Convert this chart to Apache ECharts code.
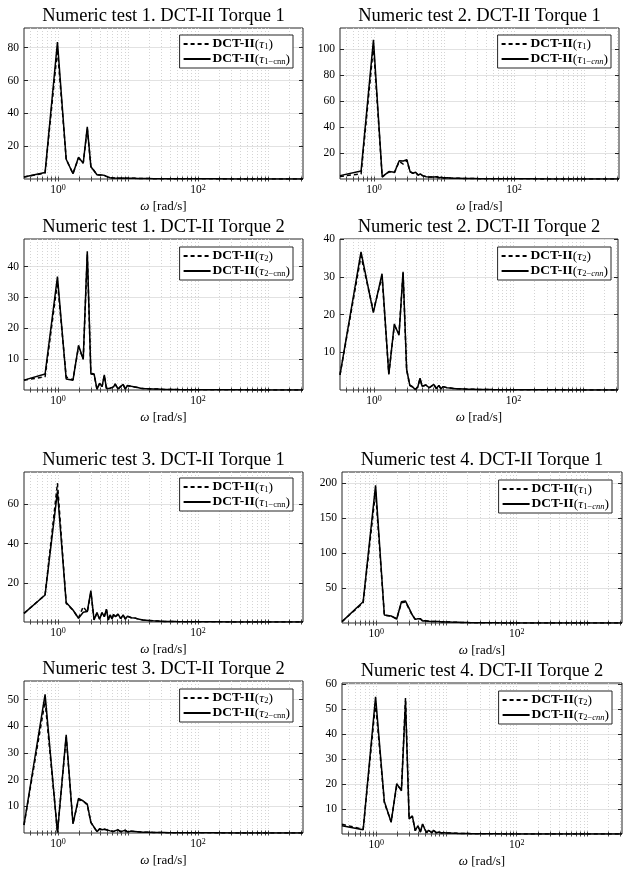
<!DOCTYPE html>
<html><head><meta charset="utf-8">
<script src="https://cdn.jsdelivr.net/npm/echarts@6/dist/echarts.min.js"></script>
<style>html,body{margin:0;padding:0;background:#fff}#c{width:627px;height:869px}</style>
</head><body><div id="c"></div><script>
// frequency samples omega [rad/s]
const omega = [0.327,0.654,0.982,1.309,1.636,1.963,2.291,2.618,2.945,3.272,3.600,3.927,4.254,4.581,4.909,5.236,5.563,5.890,6.218,6.545,
  7.199,7.854,8.508,9.163,9.817, 11.13,12.43,13.74,15.05,16.36, 19.63,22.91,26.18, 32.72,39.27,49.09,65.45,98.17,163.6,327.2,654.5,1309,3142];

const titles = [
  'Numeric test 1. DCT-II Torque 1','Numeric test 2. DCT-II Torque 1',
  'Numeric test 1. DCT-II Torque 2','Numeric test 2. DCT-II Torque 2',
  'Numeric test 3. DCT-II Torque 1','Numeric test 4. DCT-II Torque 1',
  'Numeric test 3. DCT-II Torque 2','Numeric test 4. DCT-II Torque 2'];

const p1_ref = [1.2,3.6,79,12,3.3,12.8,9.8,30.5,7.6,5.0,2.6,2.4,2.5,2.2,1.6,1.1,0.8,0.7,0.6,0.6, 0.5,0.5,0.6,0.4,0.5, 0.4,0.4,0.3,0.3,0.3, 0.3,0.2,0.2, 0.2,0.15,0.15,0.1,0.1,0.08,0.05,0.05,0.03,0.02];
const p1_cnn = [1.2,4.0,83.5,12,3.2,13.2,9.6,31.8,7.5,5.0,2.6,2.4,2.5,2.2,1.6,1.1,0.8,0.7,0.6,0.6, 0.5,0.5,0.6,0.4,0.5, 0.4,0.4,0.3,0.3,0.3, 0.3,0.2,0.2, 0.2,0.15,0.15,0.1,0.1,0.08,0.05,0.05,0.03,0.02];
const p2_ref = [2.0,3.9,102,1.5,5.5,5.0,13.5,11.5,14.5,5.5,4.4,5.0,3.0,3.8,2.6,3.0,1.8,2.7,1.5,2.0, 1.5,1.7,1.0,1.3,0.8, 0.9,0.7,0.6,0.5,0.5, 0.4,0.3,0.3, 0.25,0.2,0.2,0.15,0.1,0.1,0.08,0.05,0.04,0.03];
const p2_cnn = [2.6,6.2,107,1.8,5.7,5.2,14,13.8,14.8,5.7,4.4,5.2,3.0,3.9,2.6,3.1,1.8,2.8,1.5,2.0, 1.5,1.8,1.0,1.3,0.8, 0.9,0.7,0.6,0.5,0.5, 0.4,0.3,0.3, 0.25,0.2,0.2,0.15,0.1,0.1,0.08,0.05,0.04,0.03];
const p3_ref = [3.2,4.3,35,4.2,3.3,14,10,44,5.2,5.0,0.3,2.1,1.1,4.7,0.5,0.1,0.6,0.3,1.0,1.9, 0.3,1.1,1.7,0.3,1.4, 1.1,1.0,0.8,0.6,0.5, 0.4,0.3,0.3, 0.2,0.2,0.15,0.1,0.1,0.08,0.05,0.04,0.03,0.02];
const p3_cnn = [3.2,5.2,36.8,3.6,3.2,14.5,10,45,5.4,5.2,0.2,2.2,1.1,4.9,0.5,0.1,0.6,0.3,1.0,2.0, 0.3,1.2,1.8,0.3,1.5, 1.2,1.0,0.8,0.6,0.5, 0.4,0.3,0.3, 0.2,0.2,0.15,0.1,0.1,0.08,0.05,0.04,0.03,0.02];
const p4_ref = [4,35.5,21,30,4.3,17,15,31,5.3,1.3,0.8,0.2,0.8,3.0,1.0,0.5,1.3,1.7,0.6,0.3, 1.4,0.4,1.2,0.3,0.9, 0.6,0.5,0.4,0.3,0.3, 0.25,0.2,0.2, 0.15,0.12,0.1,0.08,0.06,0.05,0.04,0.03,0.02,0.02];
const p4_cnn = [4,36.6,20.5,30.8,4.1,17.5,14.5,31.3,5.5,1.2,0.8,0.1,0.8,3.1,1.0,0.5,1.3,1.8,0.6,0.3, 1.5,0.4,1.2,0.3,0.9, 0.6,0.5,0.4,0.3,0.3, 0.25,0.2,0.2, 0.15,0.12,0.1,0.08,0.06,0.05,0.04,0.03,0.02,0.02];
const p5_ref = [4.4,13.8,70.8,9.5,6.0,2.0,7.8,5.0,15,1.2,4.6,1.5,4.7,2.8,6.2,1.1,3.5,1.5,3.8,2.6, 3.9,1.8,3.5,1.5,2.9, 2.2,2.0,1.6,1.3,1.0, 0.8,0.6,0.5, 0.3,0.25,0.2,0.15,0.1,0.08,0.05,0.05,0.03,0.02];
const p5_cnn = [4.4,13.8,66.6,9.9,6.1,1.9,5.0,5.3,16,1.0,4.8,1.4,4.8,2.7,6.5,1.0,3.6,1.5,3.9,2.7, 4.0,1.7,3.6,1.5,3.0, 2.2,2.0,1.6,1.3,1.0, 0.8,0.6,0.5, 0.3,0.25,0.2,0.15,0.1,0.08,0.05,0.05,0.03,0.02];
const p6_ref = [2,29,188,11,10,6,29,30,20,11,5.3,6.0,6.1,3.0,3.3,3.0,2.5,3.0,2.0,2.5, 2.0,2.2,1.6,1.8,1.4, 1.3,1.2,1.0,0.9,0.8, 0.6,0.5,0.4, 0.3,0.2,0.2,0.15,0.1,0.08,0.05,0.05,0.03,0.02];
const p6_cnn = [2,30.5,197,11.4,10,5.7,30.5,31.4,21,11.4,5.2,6.2,6.2,2.9,3.3,3.0,2.5,3.0,2.0,2.5, 2.0,2.2,1.6,1.8,1.4, 1.3,1.2,1.0,0.9,0.8, 0.6,0.5,0.4, 0.3,0.2,0.2,0.15,0.1,0.08,0.05,0.05,0.03,0.02];
const p7_ref = [3,49.5,0.5,36,3.6,12.5,12,10.5,4.0,2.1,0.5,1.5,1.2,1.4,1.2,1.3,0.8,1.4,0.6,0.9, 1.1,0.5,0.8,1.0,0.4, 0.7,0.6,0.5,0.4,0.3, 0.3,0.2,0.2, 0.15,0.1,0.1,0.08,0.05,0.05,0.03,0.03,0.02,0.01];
const p7_cnn = [3,52,0.1,36.8,3.4,13,12,10.8,4.0,2.2,0.5,1.6,1.2,1.4,1.2,1.3,0.8,1.5,0.6,0.9, 1.2,0.5,0.8,1.0,0.4, 0.7,0.6,0.5,0.4,0.3, 0.3,0.2,0.2, 0.15,0.1,0.1,0.08,0.05,0.05,0.03,0.03,0.02,0.01];
const p8_ref = [3.9,1.9,52.5,12.5,4.9,19.5,18,54.5,6.2,7.0,1.4,3.2,0.8,3.8,2.0,0.5,1.5,0.8,0.5,1.4, 0.5,0.8,0.4,0.6,0.4, 0.4,0.3,0.3,0.2,0.2, 0.2,0.15,0.1, 0.1,0.1,0.08,0.05,0.05,0.03,0.03,0.02,0.02,0.01];
const p8_cnn = [3.3,1.7,55,13,4.7,20.2,17.3,53.2,6.0,7.3,1.3,3.3,0.8,4.0,2.0,0.5,1.5,0.8,0.5,1.5, 0.5,0.8,0.4,0.6,0.4, 0.4,0.3,0.3,0.2,0.2, 0.2,0.15,0.1, 0.1,0.1,0.08,0.05,0.05,0.03,0.03,0.02,0.02,0.01];

const refSeries = [p1_ref,p2_ref,p3_ref,p4_ref,p5_ref,p6_ref,p7_ref,p8_ref];
const cnnSeries = [p1_cnn,p2_cnn,p3_cnn,p4_cnn,p5_cnn,p6_cnn,p7_cnn,p8_cnn];

const yMax = [92,116,49,40,76.5,216,57,60.5];
const yTicks = [[20,40,60,80],[20,40,60,80,100],[10,20,30,40],[10,20,30,40],[20,40,60],[50,100,150,200],[10,20,30,40,50],[10,20,30,40,50,60]];
const xMin = 0.327, xMax = 3142;
const xTicks = [0.4,0.5,0.6,0.7,0.8,0.9,1,2,3,4,5,6,7,8,9,10,20,30,40,50,60,70,80,90,100,200,300,400,500,600,700,800,900,1000,2000,3000];
const xLabelTicks = [1,100];
const xLabelText = {1:'10{sup|0}', 100:'10{sup|2}'};
const torqueIdx = ['1','1','2','2','1','1','2','2'];
const italicSub = [false,true,false,true,false,true,false,true];
const xName = '{w|ω} [rad/s]';

// layout
const grids = [
 {left:24, top:28, width:279, height:151},
 {left:340, top:28, width:279, height:151},
 {left:24, top:239, width:279, height:151},
 {left:340, top:239, width:278, height:151},
 {left:24, top:472, width:279, height:150},
 {left:342, top:472, width:280, height:151},
 {left:24, top:681, width:279, height:152},
 {left:342, top:683, width:280, height:152}];
const legendPos = [[334,35],[16,35],[334,247],[16,247],[334,478],[15,480],[334,689],[15,691]];

const FONT = 'Liberation Serif';
const ink = '#262626';
const LF = 13.5;
const legendRich = {
  b:{fontFamily:FONT,fontWeight:'bold',fontSize:LF,color:'#000',lineHeight:14},
  n:{fontFamily:FONT,fontSize:LF,color:'#000',lineHeight:14},
  i:{fontFamily:FONT,fontStyle:'italic',fontSize:LF,color:'#000',lineHeight:14},
  s:{fontFamily:FONT,fontSize:8.5,color:'#000',lineHeight:7,verticalAlign:'bottom'},
  si:{fontFamily:FONT,fontSize:8.5,fontStyle:'italic',color:'#000',lineHeight:7,verticalAlign:'bottom'}
};
const legendText = {};

const option = {animation:false, backgroundColor:'#fff', color:['#000'], grid:[], xAxis:[], yAxis:[], series:[], legend:[]};
for (let i=0;i<8;i++){
  const g = grids[i];
  option.grid.push({left:g.left, top:g.top, width:g.width, height:g.height, show:true, borderColor:ink, borderWidth:1, backgroundColor:'#fff'});
  const tq = torqueIdx[i];
  const subCnn = italicSub[i] ? `{s|${tq}−}{si|cnn}` : `{s|${tq}−cnn}`;
  legendText['ref'+i] = `{b|DCT-II}{n|(}{i|τ}{s|${tq}}{n|)}`;
  legendText['cnn'+i] = `{b|DCT-II}{n|(}{i|τ}${subCnn}{n|)}`;
  const xCommon = {type:'log', logBase:10, gridIndex:i, min:xMin, max:xMax, axisLine:{show:false}};
  option.xAxis.push(Object.assign({}, xCommon, {
    position:'bottom',
    name:xName, nameLocation:'middle', nameGap:21,
    nameTextStyle:{fontFamily:FONT,fontSize:13,color:'#000',rich:{w:{fontFamily:FONT,fontStyle:'italic',fontSize:13,color:'#000'}}},
    axisTick:{show:true, inside:true, length:2.5, lineStyle:{color:'#444'}, customValues:xTicks},
    axisLabel:{show:true, margin:5, customValues:xLabelTicks, fontFamily:FONT, fontSize:11.5, color:'#000',
      formatter:(v)=> xLabelText[Math.round(v)] || '',
      rich:{sup:{fontFamily:FONT,fontSize:8,color:'#000',verticalAlign:'top',lineHeight:8}}},
    splitLine:{show:true, lineStyle:{color:'#d4d4d4', type:[1,2], width:1}}
  }));
  option.xAxis.push(Object.assign({}, xCommon, {
    position:'top',
    name:titles[i], nameLocation:'middle', nameGap:2,
    nameTextStyle:{fontFamily:FONT,fontSize:18.5,color:'#000'},
    axisTick:{show:true, inside:true, length:2.5, lineStyle:{color:'#444'}, customValues:xTicks},
    axisLabel:{show:false}, splitLine:{show:false}
  }));
  const yCommon = {type:'value', gridIndex:i, min:0, max:yMax[i], axisLine:{show:false}};
  option.yAxis.push(Object.assign({}, yCommon, {
    position:'left',
    axisTick:{show:true, inside:true, length:4, lineStyle:{color:ink}, customValues:yTicks[i]},
    axisLabel:{show:true, margin:5, customValues:yTicks[i], fontFamily:FONT, fontSize:11.5, color:'#000'},
    splitLine:{show:true, lineStyle:{color:'#e2e2e2', width:1}}
  }));
  option.yAxis.push(Object.assign({}, yCommon, {
    position:'right',
    axisTick:{show:true, inside:true, length:4, lineStyle:{color:ink}, customValues:yTicks[i]},
    axisLabel:{show:false}, splitLine:{show:false}
  }));
  option.series.push({
    name:'cnn'+i, type:'line', xAxisIndex:2*i, yAxisIndex:2*i, symbol:'none', showSymbol:false, z:3,
    color:'#000', itemStyle:{color:'#000', opacity:0},
    lineStyle:{color:'#000', width:1.5, type:'solid'},
    data: omega.map((w,j)=>[w, cnnSeries[i][j]])
  });
  option.series.push({
    name:'ref'+i, type:'line', xAxisIndex:2*i, yAxisIndex:2*i, symbol:'none', showSymbol:false, z:4,
    color:'#000', itemStyle:{color:'#000', opacity:0},
    lineStyle:{color:'#000', width:1.5, type:[4,3]},
    data: omega.map((w,j)=>[w, refSeries[i][j]])
  });
  option.legend.push({
    data:['ref'+i,'cnn'+i], orient:'vertical', right:legendPos[i][0], top:legendPos[i][1],
    itemWidth:27, itemHeight:10, itemGap:1, padding:[2,3,2,3],
    backgroundColor:'#fff', borderColor:ink, borderWidth:1, borderRadius:0,
    selectedMode:false,
    itemStyle:{opacity:0},
    formatter:(name)=>legendText[name],
    textStyle:{fontFamily:FONT,fontSize:LF,color:'#000',padding:[0,0,0,-3],rich:legendRich}
  });
}
const chart = echarts.init(document.getElementById('c'), null, {renderer:'canvas'});
chart.setOption(option);
</script></body></html>
